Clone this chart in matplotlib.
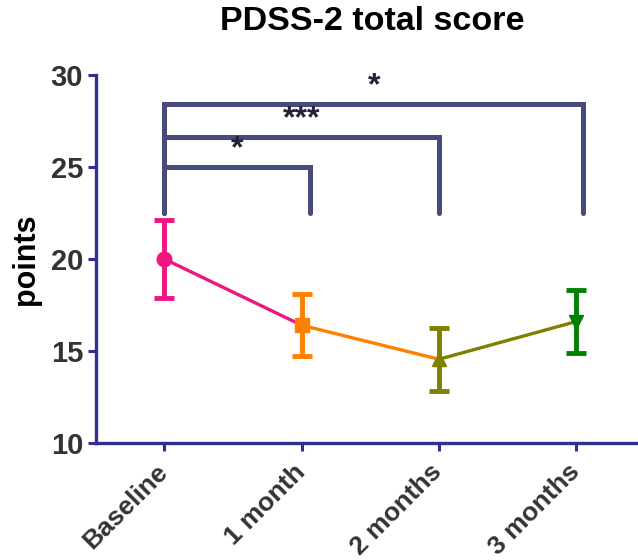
import matplotlib
matplotlib.use("Agg")
import matplotlib.pyplot as plt
import matplotlib.transforms as mtransforms

# ── Dati ──────────────────────────────────────────────────────────────────────
groups  = ["Baseline", "1 month", "2 months", "3 months"]
means   = [20.0, 16.4, 14.55, 16.6]
errs    = [2.1, 1.7, 1.7, 1.7]
markers = ["o", "s", "^", "v"]
colors  = ["#f0157f", "#ff8000", "#808000", "#008000"]

# confronti: (da, a, altezza, etichetta)
comp_from   = [0, 0, 0]
comp_to     = [1.06, 2.0, 3.05]
comp_height = [25.0, 26.63, 28.42]
comp_label  = ["*", "***", "*"]
comp_bottom = 22.5

C_AXIS  = "#2e3192"
C_BRACK = "#474a7d"

plt.rcParams["font.family"] = ["Liberation Sans", "DejaVu Sans"]

fig = plt.figure(figsize=(6.38, 5.6), dpi=100, facecolor="white")
ax = fig.add_axes([0.150, 0.209, 0.85, 0.657])

xs = list(range(len(groups)))

# segmenti colorati come il punto di partenza
for i in range(len(xs) - 1):
    ax.plot(xs[i:i + 2], means[i:i + 2], color=colors[i], lw=2.4,
            zorder=2, solid_capstyle="round")

for x, m, e, mk, c in zip(xs, means, errs, markers, colors):
    ax.errorbar(x, m, yerr=e, fmt=mk, color=c, ms=10.5, lw=3.5,
                capsize=7, capthick=3.5, zorder=3)

# parentesi di significatività
for x0, x1, h, lab in zip(comp_from, comp_to, comp_height, comp_label):
    ax.plot([x0, x0, x1, x1], [comp_bottom, h, h, comp_bottom],
            color=C_BRACK, lw=3.6, solid_joinstyle="miter",
            solid_capstyle="round", clip_on=False, zorder=1)
    ax.text((x0 + x1) / 2, h + 0.15, lab, ha="center", va="bottom",
            fontsize=23, fontweight="bold", color="#22223a")

ax.set_xlim(-0.5, 3.45)
ax.set_ylim(10, 30)
ax.set_yticks([10, 15, 20, 25, 30])
ax.set_xticks(xs)
ax.set_xticklabels([])

# etichette x ruotate, spostate un poco a sinistra rispetto al tick
base = ax.get_xaxis_transform()
shift = mtransforms.ScaledTranslation(-0.09, -0.17, fig.dpi_scale_trans)
for x, g in zip(xs, groups):
    ax.text(x, 0, g, transform=base + shift, rotation=45,
            rotation_mode="anchor", ha="right", va="top",
            fontsize=19, fontweight="bold", color="#333333")

ax.tick_params(axis="y", labelsize=21)
for lab in ax.get_yticklabels():
    lab.set_fontweight("bold")
ax.tick_params(axis="both", colors=C_AXIS, width=2.2, length=6, direction="out")
ax.tick_params(axis="both", labelcolor="#333333")
ax.tick_params(axis="y", pad=3)

ax.spines[["top", "right"]].set_visible(False)
for s in ["left", "bottom"]:
    ax.spines[s].set_color(C_AXIS)
    ax.spines[s].set_linewidth(2.4)

ax.set_ylabel("points", fontsize=22, fontweight="bold", labelpad=7)
fig.text(0.583, 0.961, "PDSS-2 total score", ha="center", va="center",
         fontsize=24.5, fontweight="bold")

fig.savefig("out.png", dpi=100, facecolor="white")
